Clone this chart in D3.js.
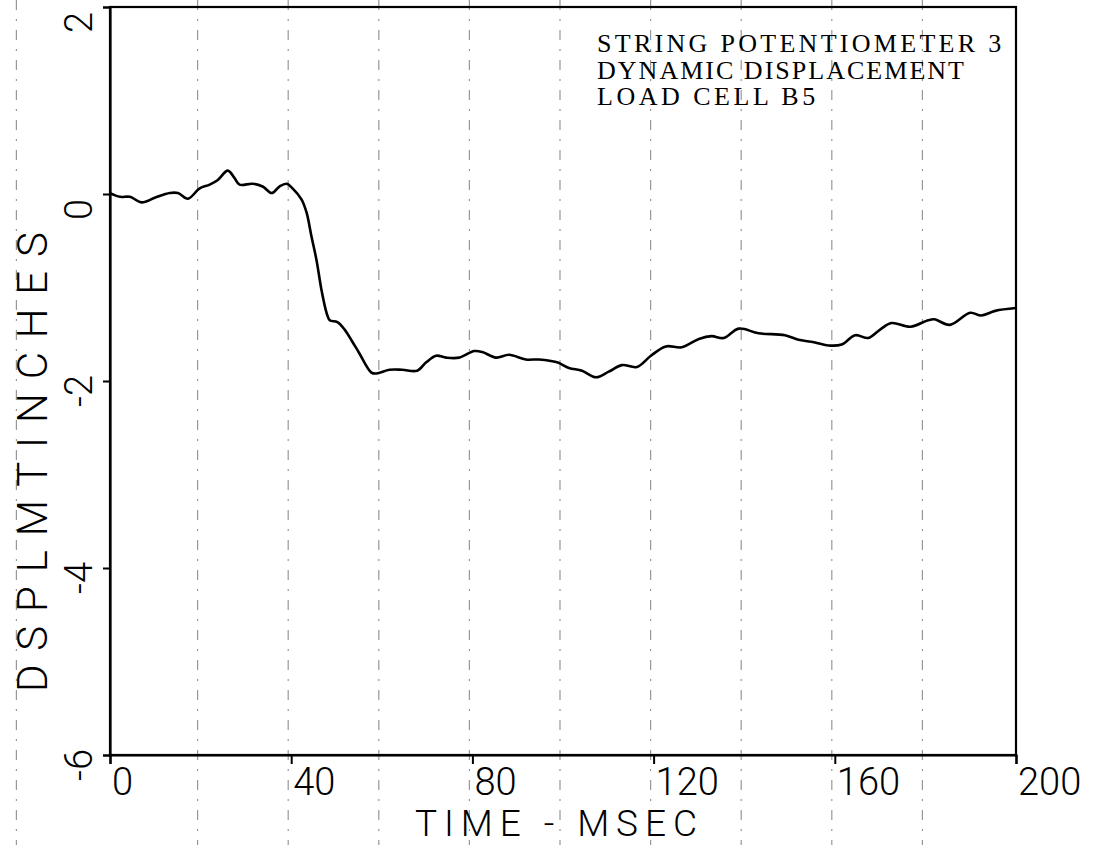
<!DOCTYPE html>
<html><head><meta charset="utf-8">
<script src="https://cdn.jsdelivr.net/npm/d3@7"></script>
<style>html,body{margin:0;padding:0;background:#fff;}svg{display:block;}</style>
</head><body>
<svg id="c" width="1098" height="845"></svg>
<script>
// ---- data ----
const timeMs = [0,2.2,4.4,7,9.9,13.2,15,17.2,19.8,22,23.8,26,27.5,28.6,31.5,33.7,35.7,37.4,39,40.3,42.3,43.4,44.5,45.6,46.7,47.8,48.5,50.2,51.8,53.5,55,57.7,58.8,61.7,64.5,67.8,69.8,72,74.2,77.1,80.4,82.2,85.2,88.1,91.8,94.7,98.7,101.3,104.2,107.3,110.1,113,116.3,119.4,122.7,126.2,130,132.8,135.5,138.8,143.2,149,152,154.8,158.6,161.5,164.5,167.4,170,172.5,176.7,180.6,182,185.4,189.9,192.3,195.4,200];
const displacement = [0.01,-0.03,-0.03,-0.09,-0.04,0.01,0.01,-0.05,0.06,0.1,0.15,0.25,0.17,0.1,0.11,0.08,0.01,0.08,0.11,0.06,-0.06,-0.2,-0.46,-0.71,-1.03,-1.27,-1.35,-1.37,-1.45,-1.58,-1.7,-1.91,-1.92,-1.88,-1.88,-1.89,-1.8,-1.73,-1.75,-1.75,-1.68,-1.69,-1.75,-1.72,-1.77,-1.77,-1.8,-1.86,-1.89,-1.96,-1.9,-1.83,-1.85,-1.73,-1.63,-1.64,-1.55,-1.52,-1.54,-1.44,-1.49,-1.51,-1.56,-1.58,-1.62,-1.61,-1.51,-1.54,-1.45,-1.38,-1.42,-1.35,-1.34,-1.4,-1.27,-1.3,-1.25,-1.22];
const xTicks = [0,40,80,120,160,200];
const yTicks = [2,0,-2,-4,-6];
const xTitle = "TIME - MSEC";
const yTitle = "DSPLMTINCHES";
const noteLines = ["STRING POTENTIOMETER 3","DYNAMIC DISPLACEMENT","LOAD CELL B5"];
const scanLines = [-20,20,40,60,80,100,120,140,160,180];

// ---- layout ----
const svg = d3.select("#c");
const L = 110, R = 1016, T = 7, B = 755;
const x = d3.scaleLinear().domain([0,200]).range([L,R]);
const y = d3.scaleLinear().domain([-6,2]).range([B,T]);
const plotFont = "Roboto, 'DejaVu Sans', sans-serif";

// scan artifact dash lines
svg.append("g").selectAll("line").data(scanLines).join("line")
  .attr("x1", d => x(d) - 3).attr("x2", d => x(d) - 3)
  .attr("y1", 0).attr("y2", 845)
  .attr("stroke", "#333").attr("stroke-width", 1.2).attr("opacity", 0.5)
  .attr("stroke-dasharray", "10,9,2,9");

// frame
svg.append("rect").attr("x", L).attr("y", T).attr("width", R - L).attr("height", B - T)
  .attr("fill", "none").attr("stroke", "#000").attr("stroke-width", 2.2);

// axes
const xAxis = svg.append("g").attr("transform", `translate(0,${B})`)
  .call(d3.axisBottom(x).tickValues(xTicks).tickSize(9).tickFormat(""));
const yAxis = svg.append("g").attr("transform", `translate(${L},0)`)
  .call(d3.axisLeft(y).tickValues(yTicks).tickSize(7).tickFormat(""));
[xAxis, yAxis].forEach(g => {
  g.select(".domain").attr("stroke", "#000").attr("stroke-width", 2.2);
  g.selectAll(".tick line").attr("stroke", "#000").attr("stroke-width", 2);
});

// x tick labels
svg.append("g").selectAll("text").data(xTicks).join("text")
  .attr("x", d => x(d) + 2).attr("y", B + 40)
  .attr("font-family", plotFont).attr("font-weight", 300).attr("font-size", 38)
  .attr("fill", "#000").text(d => d);

// y tick labels (rotated)
svg.append("g").selectAll("text").data(yTicks).join("text")
  .attr("transform", d => `translate(${L - 18},${y(d) + 26}) rotate(-90)`)
  .attr("font-family", plotFont).attr("font-weight", 300).attr("font-size", 38)
  .attr("fill", "#000").text(d => d < 0 ? "-" + Math.abs(d) : d);

// titles
svg.append("text").attr("x", 415).attr("y", 836)
  .attr("font-family", plotFont).attr("font-weight", 300).attr("font-size", 37)
  .attr("textLength", 282).attr("lengthAdjust", "spacing").text(xTitle);
svg.append("text").attr("transform", "translate(47,692) rotate(-90)")
  .attr("font-family", plotFont).attr("font-weight", 300).attr("font-size", 42)
  .attr("textLength", 460).attr("lengthAdjust", "spacing").text(yTitle);

// annotation
svg.append("g").selectAll("text").data(noteLines).join("text")
  .attr("x", 597).attr("y", (d, i) => 52 + i * 26.5)
  .attr("font-family", "'Liberation Serif', 'DejaVu Serif', serif").attr("font-size", 26)
  .attr("textLength", d => d.length * 18.6 - 5).attr("lengthAdjust", "spacing")
  .attr("fill", "#000").text(d => d);

// curve
const pts = timeMs.map((t, i) => [t, displacement[i]]);
svg.append("path").datum(pts)
  .attr("d", d3.line().x(d => x(d[0])).y(d => y(d[1])).curve(d3.curveCatmullRom))
  .attr("fill", "none").attr("stroke", "#000").attr("stroke-width", 2.6)
  .attr("stroke-linejoin", "round");
</script>
</body></html>
